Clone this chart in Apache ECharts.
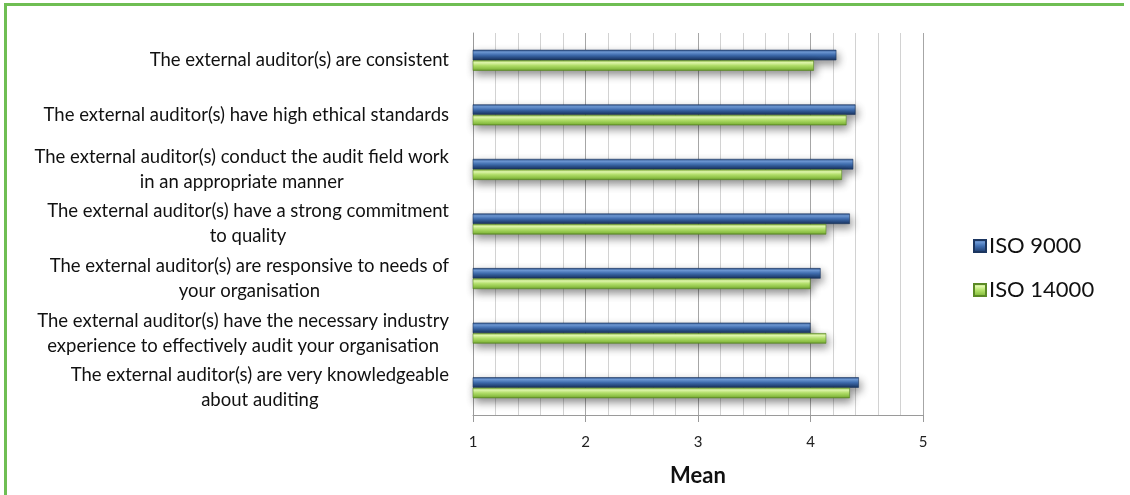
<!DOCTYPE html>
<html>
<head>
<meta charset="utf-8">
<script src="https://cdn.jsdelivr.net/npm/echarts@6/dist/echarts.min.js"></script>
<style>
  html, body { margin: 0; padding: 0; background: #ffffff; }
  #chart { width: 1130px; height: 495px; }
</style>
</head>
<body>
<div id="chart"></div>
<script>
// Survey statements (top to bottom), line breaks as shown on the axis
const categories = [
  'The external auditor(s) are consistent',
  'The external auditor(s) have high ethical standards',
  'The external auditor(s) conduct the audit field work\nin an appropriate manner',
  'The external auditor(s) have a strong commitment\nto quality',
  'The external auditor(s) are responsive to needs of\nyour organisation',
  'The external auditor(s) have the necessary industry\nexperience to effectively audit your organisation',
  'The external auditor(s) are very knowledgeable\nabout auditing'
];

// Mean scores per standard
const iso9000 = [4.23, 4.40, 4.38, 4.35, 4.09, 4.00, 4.43];
const iso14000 = [4.03, 4.32, 4.28, 4.14, 4.00, 4.14, 4.35];

const seriesNames = ['ISO 9000', 'ISO 14000'];
const xTicks = [1, 2, 3, 4, 5];

const FONT = 'Lato, "Open Sans", sans-serif';

function vGrad(stops) {
  return new echarts.graphic.LinearGradient(0, 0, 0, 1,
    stops.map(s => ({ offset: s[0], color: s[1] })));
}

const blueFill = vGrad([[0, '#2a4e85'], [0.22, '#6f9ad6'], [0.5, '#4170b3'], [0.82, '#27497f'], [1, '#1a345c']]);
const greenFill = vGrad([[0, '#86b53f'], [0.22, '#e4fbb0'], [0.5, '#b6e46c'], [0.82, '#8ec445'], [1, '#5e8a27']]);

const barShadow = {
  shadowColor: 'rgba(0,0,0,0.45)',
  shadowBlur: 8,
  shadowOffsetX: 2,
  shadowOffsetY: 4
};

const chart = echarts.init(document.getElementById('chart'), null, { renderer: 'canvas' });

chart.setOption({
  animation: false,
  backgroundColor: '#ffffff',
  textStyle: { fontFamily: FONT },
  grid: { left: 473, right: 207, top: 33, bottom: 80, containLabel: false },
  legend: {
    orient: 'vertical',
    left: 968,
    top: 230,
    itemWidth: 12,
    itemHeight: 12,
    itemGap: 22,
    icon: 'rect',
    textStyle: { fontFamily: FONT, fontSize: 22, color: '#111111', padding: [0, 0, 0, -2] },
    data: seriesNames
  },
  xAxis: {
    type: 'value',
    min: xTicks[0],
    max: xTicks[xTicks.length - 1],
    interval: 1,
    name: 'Mean',
    nameLocation: 'middle',
    nameGap: 50,
    nameTextStyle: { fontFamily: FONT, fontSize: 22, fontWeight: 'bold', color: '#111111' },
    axisLine: { show: true, lineStyle: { color: '#9a9a9a', width: 1 } },
    axisTick: { show: true, length: 7, lineStyle: { color: '#9a9a9a' } },
    axisLabel: { fontFamily: FONT, fontSize: 15, color: '#222222', margin: 20 },
    splitLine: { show: true, lineStyle: { color: '#a6a6a6', width: 1 } },
    minorTick: { show: false, splitNumber: 5 },
    minorSplitLine: { show: true, lineStyle: { color: '#d2d2d2', width: 1 } }
  },
  yAxis: {
    type: 'category',
    inverse: true,
    data: categories,
    axisLine: { show: true, lineStyle: { color: '#9a9a9a', width: 1 } },
    axisTick: { show: false },
    splitLine: { show: false },
    axisLabel: {
      margin: 24,
      color: '#111111',
      fontFamily: FONT,
      fontSize: 18.5,
      lineHeight: 25,
      formatter: v => v.split('\n').map(l => '{c|' + l + '}').join('\n'),
      rich: {
        c: { align: 'center', fontFamily: FONT, fontSize: 18.5, lineHeight: 25, color: '#111111' }
      }
    }
  },
  series: [
    {
      name: seriesNames[0],
      type: 'bar',
      data: iso9000,
      barWidth: 10.5,
      barGap: '0%',
      itemStyle: Object.assign({
        color: blueFill,
        borderColor: '#1c3660',
        borderWidth: 0.6
      }, barShadow)
    },
    {
      name: seriesNames[1],
      type: 'bar',
      data: iso14000,
      barWidth: 10.5,
      barGap: '0%',
      itemStyle: Object.assign({
        color: greenFill,
        borderColor: '#5b8a25',
        borderWidth: 0.6
      }, barShadow)
    }
  ],
  graphic: [
    { type: 'line', silent: true, shape: { x1: 4, y1: 4.5, x2: 1124, y2: 4.5 }, style: { stroke: '#6fbe53', lineWidth: 3 } },
    { type: 'line', silent: true, shape: { x1: 5.5, y1: 3, x2: 5.5, y2: 495 }, style: { stroke: '#6fbe53', lineWidth: 3 } }
  ]
});
</script>
</body>
</html>
